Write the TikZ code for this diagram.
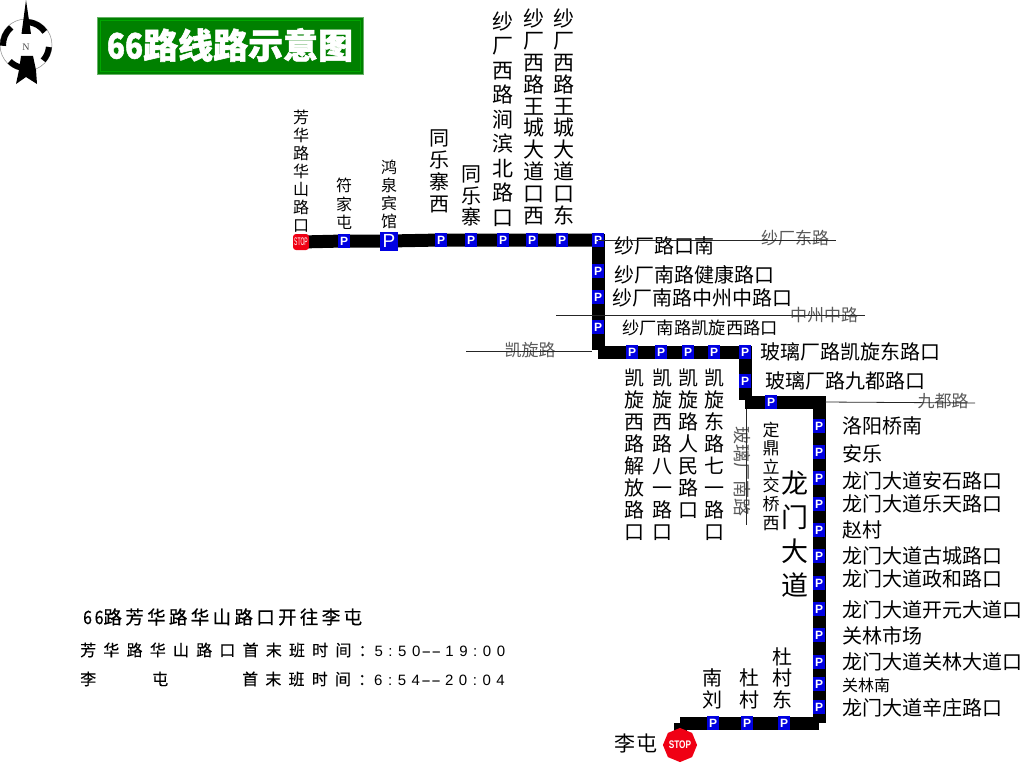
\documentclass[tikz,border=0pt]{standalone}
\usepackage{fontspec}
\setmainfont{Noto Sans CJK SC}
\newfontfamily\latinfont{Liberation Sans}
\newfontfamily\nfont{Liberation Serif}
\newfontfamily\titlefont[BoldFeatures={FakeBold=1.5}]{Noto Sans CJK SC}
\newfontfamily\headfont[LetterSpace=18,FakeBold=0.6]{Noto Sans CJK SC}
\newfontfamily\spacedfont[LetterSpace=45,FakeBold=0.2]{Noto Sans CJK SC}
\newfontfamily\digitfont[LetterSpace=37]{Liberation Sans}
\XeTeXlinebreaklocale "zh"
\usetikzlibrary{backgrounds,shapes.geometric}
\definecolor{signblue}{RGB}{0,0,225}
\definecolor{signgreen}{RGB}{0,128,0}
\definecolor{stopred}{RGB}{240,0,20}
\newcommand{\longdash}{\hspace{1pt}\scalebox{2}[1]{\latinfont -{}-}\hspace{4pt}}
\tikzset{
  route/.style={line width=13pt,line cap=butt},
  road/.style={line width=0.8pt,draw=black!85},
  roadname/.style={font=\fontsize{#1}{#1}\selectfont,text=black!65,inner sep=0pt},
  hlabel/.style={anchor=west,inner sep=0pt,font=\fontsize{#1}{#1}\selectfont},
  vlabel/.style 2 args={inner sep=0pt,align=center,text width=1.2*#1 pt,font=\fontsize{#1}{#2}\selectfont},
  busstop/.style={fill=signblue,text=white,inner sep=0pt,minimum width=12pt,minimum height=14pt,font=\latinfont\bfseries\fontsize{12}{12}\selectfont},
  bigstop/.style={busstop,minimum width=18pt,minimum height=19pt,font=\latinfont\fontsize{19}{19}\selectfont},
  infoline/.style={anchor=west,inner sep=0pt,font=\spacedfont\fontsize{16}{16}\selectfont},
}
\begin{document}
\begin{tikzpicture}[x=1pt,y=-1pt]
	\useasboundingbox (0,0) rectangle (1024,768);

	% compass
	\draw [black!45,line width=0.5pt] (26,45) circle [radius=26];
	\foreach \from/\to in {85/35,-5/-42,-105/-135,130/182}
		\draw [line width=6pt] (26,45) ++(-\from:23) arc [start angle=-\from,end angle=-\to,radius=23];
	\fill (26,0) -- (31,34) -- (21.5,34) -- cycle;
	\fill (21,56) -- (33,56) -- (36,70) -- (37,84) -- (26,77) -- (16,84) -- (19,70) -- cycle;
	\node at (26,47) [inner sep=0pt,text=black!70,font=\nfont\fontsize{10}{10}\selectfont] (north) {N};

	% title
	\node at (230,45.5) [fill=signgreen,draw=green!50!black!60,minimum width=266pt,minimum height=57pt,inner sep=0pt] (titlebox) {};
	\draw [green!65!black,line width=0.4pt] (100,20) rectangle (360,71);
	\node at (230,45) [text=white,inner sep=0pt,font=\titlefont\bfseries\fontsize{35}{35}\selectfont] (title) {\scalebox{.85}[1]{66}路线路示意图};

	% stops along the line
	\node at (301,242) [fill=stopred,rounded corners=3pt,minimum size=16pt,inner sep=0pt,text=white,font=\latinfont\fontsize{10}{10}\selectfont] (fanghua) {\scalebox{.5}[1.1]{STOP}};
	\node at (344,241) [busstop] (fujia) {P};
	\node at (389,241) [bigstop] (hongquan) {P};
	\node at (441,240) [busstop] (tlwest) {P};
	\node at (471,240) [busstop] (tongle) {P};
	\node at (503,240) [busstop] (jianbin) {P};
	\node at (532,240) [busstop] (wcwest) {P};
	\node at (562,240) [busstop] (wceast) {P};
	\node at (598,240) [busstop] (sckou) {P};
	\node at (598,271) [busstop] (jiankang) {P};
	\node at (598,297) [busstop] (zhongzhou) {P};
	\node at (598,327) [busstop] (kxwest) {P};
	\node at (632,352) [busstop] (jiefang) {P};
	\node at (661,352) [busstop] (bayi) {P};
	\node at (688,352) [busstop] (renmin) {P};
	\node at (714,352) [busstop] (qiyi) {P};
	\node at (745,352) [busstop] (kxeast) {P};
	\node at (745,381) [busstop] (jiudu) {P};
	\node at (771,402) [busstop] (dingding) {P};
	\node at (819,426) [busstop] (luoyang) {P};
	\node at (819,452) [busstop] (anle) {P};
	\node at (819,478) [busstop] (anshi) {P};
	\node at (819,504) [busstop] (letian) {P};
	\node at (819,530) [busstop] (zhaocun) {P};
	\node at (819,556) [busstop] (gucheng) {P};
	\node at (819,583) [busstop] (zhenghe) {P};
	\node at (819,609) [busstop] (kaiyuan) {P};
	\node at (819,635) [busstop] (guanlin) {P};
	\node at (819,662) [busstop] (gldadao) {P};
	\node at (819,684) [busstop] (glnan) {P};
	\node at (819,707) [busstop] (xinzhuang) {P};
	\node at (784,723) [busstop] (dceast) {P};
	\node at (747,723) [busstop] (ducun) {P};
	\node at (713,723) [busstop] (nanliu) {P};
	\node at (680,745) [regular polygon,regular polygon sides=8,shape border rotate=22.5,fill=stopred,minimum size=28pt,inner sep=0pt,text=white,font=\latinfont\bfseries\fontsize{11}{11}\selectfont] (litun) {\scalebox{.75}[1]{STOP}};

	% the line, broken at each turn
	\coordinate (c1top) at (598,234);
	\coordinate (c1bot) at (598,350);
	\coordinate (c2left) at (598,352.5);
	\coordinate (c2right) at (752,352.5);
	\coordinate (c3top) at (745.5,346);
	\coordinate (c3bot) at (745.5,400);
	\coordinate (c4left) at (745,402.5);
	\coordinate (c4right) at (825,402.5);
	\coordinate (c5top) at (819,396);
	\coordinate (c5bot) at (819,723);
	\coordinate (c6right) at (819,723);
	\coordinate (c6left) at (680,723);
	\coordinate (c7top) at (680,723);
	\begin{scope}[on background layer]
		\draw [route] (fanghua.center) -- (fujia.center) -- (hongquan.center) -- (tlwest.center) -- (sckou.center);
		\draw [route] (c1top) -- (c1bot);
		\draw [route] (c2left) -- (c2right);
		\draw [route] (c3top) -- (c3bot);
		\draw [route] (c4left) -- (c4right);
		\draw [route] (c5top) -- (c5bot);
		\draw [route] (c6right) -- (c6left);
		\draw [route] (c7top) -- (litun.center);
	\end{scope}

	% labels above the first stretch
	\node at (301,171) [vlabel={16}{18}] (lfanghua) {芳华路华山路口};
	\node at (344,204) [vlabel={16}{18.5}] (lfujia) {符家屯};
	\node at (389,194) [vlabel={16}{18}] (lhongquan) {鸿泉宾馆};
	\node at (439,171) [vlabel={20}{22}] (ltlwest) {同乐寨西};
	\node at (471,196) [vlabel={20}{21.5}] (ltongle) {同乐寨};
	\node at (503,119) [vlabel={21}{24.5}] (ljianbin) {纱厂西路涧滨北路口};
	\node at (534,117) [vlabel={21}{21.8}] (lwcwest) {纱厂西路王城大道口西};
	\node at (564,117) [vlabel={21}{21.8}] (lwceast) {纱厂西路王城大道口东};

	% labels along the turns
	\node at (614,246) [hlabel=20] (lsckou) {纱厂路口南};
	\node at (614,275) [hlabel=20] (ljiankang) {纱厂南路健康路口};
	\node at (612,298) [hlabel=20] (lzhongzhou) {纱厂南路中州中路口};
	\node at (622,328) [hlabel=17.3] (lkxwest) {纱厂南路凯旋西路口};
	\node at (760,352) [hlabel=20] (lkxeast) {玻璃厂路凯旋东路口};
	\node at (765,381) [hlabel=20] (ljiudu) {玻璃厂路九都路口};
	\node at (634,455) [vlabel={20}{22}] (ljiefang) {凯旋西路解放路口};
	\node at (662,455) [vlabel={20}{22}] (lbayi) {凯旋西路八一路口};
	\node at (688,444) [vlabel={20}{22}] (lrenmin) {凯旋路人民路口};
	\node at (714,455) [vlabel={20}{22}] (lqiyi) {凯旋东路七一路口};
	\node at (771,476) [vlabel={17}{18.6}] (ldingding) {定鼎立交桥西};
	\node at (795,534) [vlabel={27}{34}] (longmen) {龙门大道};

	% labels right of Longmen avenue
	\node at (842,426) [hlabel=20] (lluoyang) {洛阳桥南};
	\node at (842,454) [hlabel=20] (lanle) {安乐};
	\node at (842,481) [hlabel=20] (lanshi) {龙门大道安石路口};
	\node at (842,504) [hlabel=20] (lletian) {龙门大道乐天路口};
	\node at (842,530) [hlabel=20] (lzhaocun) {赵村};
	\node at (842,556) [hlabel=20] (lgucheng) {龙门大道古城路口};
	\node at (842,579) [hlabel=20] (lzhenghe) {龙门大道政和路口};
	\node at (842,610) [hlabel=20] (lkaiyuan) {龙门大道开元大道口};
	\node at (842,636) [hlabel=20] (lguanlin) {关林市场};
	\node at (842,662) [hlabel=20] (lgldadao) {龙门大道关林大道口};
	\node at (842,685) [hlabel=16] (lglnan) {关林南};
	\node at (842,708) [hlabel=20] (lxinzhuang) {龙门大道辛庄路口};
	\node at (782,678) [vlabel={20}{21.5}] (ldceast) {杜村东};
	\node at (749,689) [vlabel={20}{22}] (lducun) {杜村};
	\node at (712,689) [vlabel={20}{22}] (lnanliu) {南刘};
	\node at (614,743) [hlabel=21] (llitun) {\addfontfeature{LetterSpace=5}李屯};

	% cross roads
	\node at (795,238) [roadname=17] (rdsceast) {纱厂东路};
	\node at (824,315) [roadname=17] (rdzhongzhou) {中州中路};
	\node at (530,350) [roadname=17] (rdkaixuan) {凯旋路};
	\node at (943,401) [roadname=17] (rdjiudu) {九都路};
	\node at (742,471) [roadname=18,rotate=-90] (rdboli) {玻璃厂南路};
	\coordinate (e1) at (836,240);
	\coordinate (e2a) at (556,315);
	\coordinate (e2b) at (865,315);
	\coordinate (e3) at (466,351);
	\coordinate (e3b) at (592,351);
	\coordinate (e4a) at (825,402);
	\coordinate (e4b) at (975,403);
	\coordinate (e5a) at (746,409);
	\coordinate (e5b) at (746,525);
	\draw [road] (sckou.center) -- (e1);
	\draw [road] (e2a) -- (e2b);
	\draw [road] (e3) -- (e3b);
	\draw [road] (e4a) -- (e4b);
	\draw [road] (e5a) -- (e5b);

	% timetable
	\node at (83,617) [anchor=west,inner sep=0pt,font=\headfont\fontsize{18.5}{18}\selectfont] (head) {\scalebox{.85}[1]{66}路芳华路华山路口开往李屯};
	\node at (80,650) [infoline] (timea) {芳华路华山路口首末班时间：{\digitfont\fontsize{15}{15}\selectfont 5:50\longdash19:00}};
	\node at (80,679) [infoline] (timeb) {李\hspace{56pt}屯\hspace{74pt}首末班时间：{\digitfont\fontsize{15}{15}\selectfont 6:54\longdash20:04}};
\end{tikzpicture}
\end{document}
